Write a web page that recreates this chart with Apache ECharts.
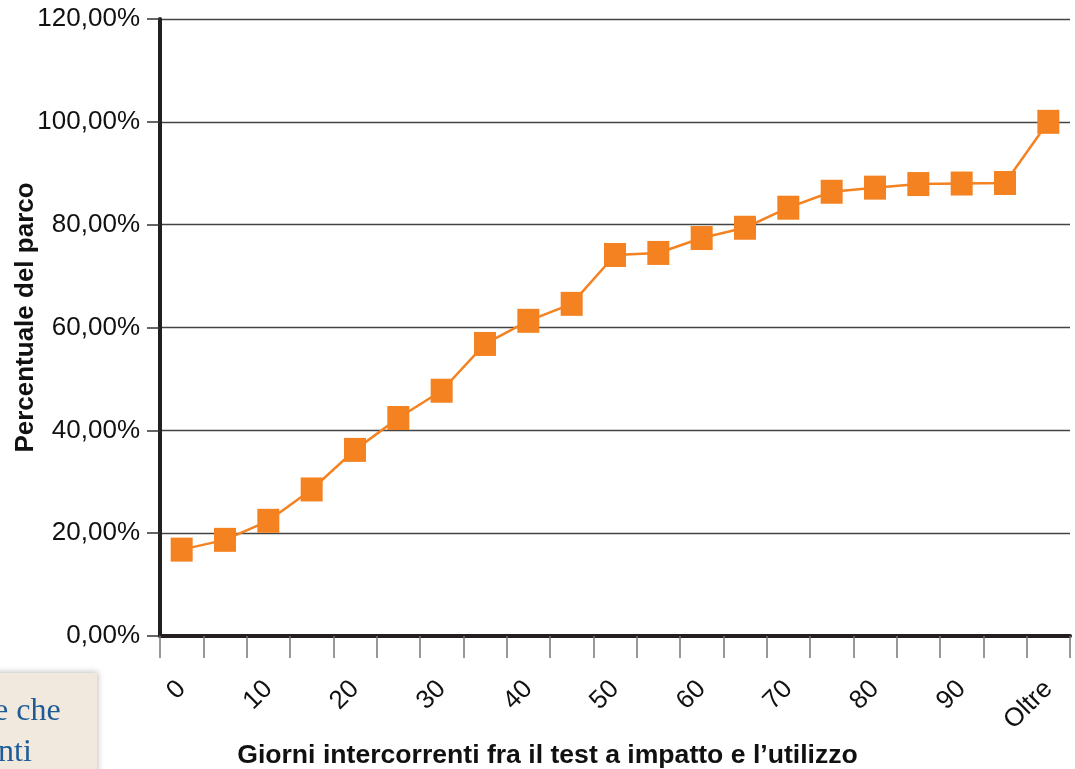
<!DOCTYPE html>
<html>
<head>
<meta charset="utf-8">
<script src="https://cdn.jsdelivr.net/npm/echarts@6/dist/echarts.min.js"></script>
<style>html,body{margin:0;padding:0;background:#fff}#c{width:1075px;height:769px}</style>
</head>
<body>
<div id="c"></div>
<script>
const categories = ['0','5','10','15','20','25','30','35','40','45','50','55','60','65','70','75','80','85','90','95','Oltre'];
const values = [16.8,18.7,22.4,28.5,36.2,42.4,47.7,56.8,61.3,64.6,74.1,74.5,77.4,79.4,83.3,86.4,87.2,87.9,88.0,88.1,100];
const yTickLabels = ['0,00%','20,00%','40,00%','60,00%','80,00%','100,00%','120,00%'];
const yTitle = 'Percentuale del parco';
const xTitle = 'Giorni intercorrenti fra il test a impatto e l\u2019utilizzo';
const sideText = ['e che','nti'];

const FONT = "'Liberation Sans', Arial, Helvetica, sans-serif";
const chart = echarts.init(document.getElementById('c'));
chart.setOption({
  animation: false,
  backgroundColor: '#fff',
  grid: {left: 160, right: 5, top: 19, bottom: 133, containLabel: false, outerBoundsMode: 'none'},
  xAxis: {
    type: 'category',
    data: categories,
    boundaryGap: true,
    name: xTitle,
    nameLocation: 'middle',
    nameGap: 106,
    nameMoveOverlap: false,
    nameTextStyle: {fontFamily: FONT, fontSize: 26.6, fontWeight: 'bold', color: '#111', padding: [0, 135, 0, 0]},
    axisLine: {lineStyle: {color: '#231f20', width: 4}},
    axisTick: {show: true, interval: 0, length: 22, lineStyle: {color: '#777', width: 1.5}},
    axisLabel: {interval: 1, rotate: 45, margin: 49, fontFamily: FONT, fontSize: 26, color: '#111'},
    splitLine: {show: false}
  },
  yAxis: {
    type: 'value',
    min: 0, max: 120, interval: 20,
    name: yTitle,
    nameLocation: 'middle',
    nameGap: 121,
    nameMoveOverlap: false,
    nameTextStyle: {fontFamily: FONT, fontSize: 26, fontWeight: 'bold', color: '#111', padding: [0, 0, 0, 20]},
    axisLine: {show: true, lineStyle: {color: '#231f20', width: 4}},
    axisTick: {show: true, length: 13, lineStyle: {color: '#333', width: 1.5}},
    axisLabel: {margin: 20, fontFamily: FONT, fontSize: 26, color: '#111',
      formatter: v => yTickLabels[Math.round(v / 20)]},
    splitLine: {show: true, lineStyle: {color: '#444', width: 1.3}}
  },
  series: [{
    type: 'line',
    data: values,
    symbol: 'rect',
    symbolSize: [22, 24],
    itemStyle: {color: '#F58220'},
    lineStyle: {color: '#F58220', width: 2.5}
  }],
  graphic: [
    {type: 'rect', shape: {x: -10, y: 673, width: 107, height: 110},
     style: {fill: '#F1E9DD', shadowBlur: 6, shadowColor: 'rgba(0,0,0,0.25)', shadowOffsetX: 1, shadowOffsetY: -1}, z: 10},
    {type: 'text', left: -6, top: 696, z: 11,
     style: {text: sideText[0], font: "32px 'Liberation Serif', 'DejaVu Serif', serif", fill: '#1E5C97'}},
    {type: 'text', left: -2, top: 737, z: 11,
     style: {text: sideText[1], font: "32px 'Liberation Serif', 'DejaVu Serif', serif", fill: '#1E5C97'}}
  ]
});
</script>
</body>
</html>
